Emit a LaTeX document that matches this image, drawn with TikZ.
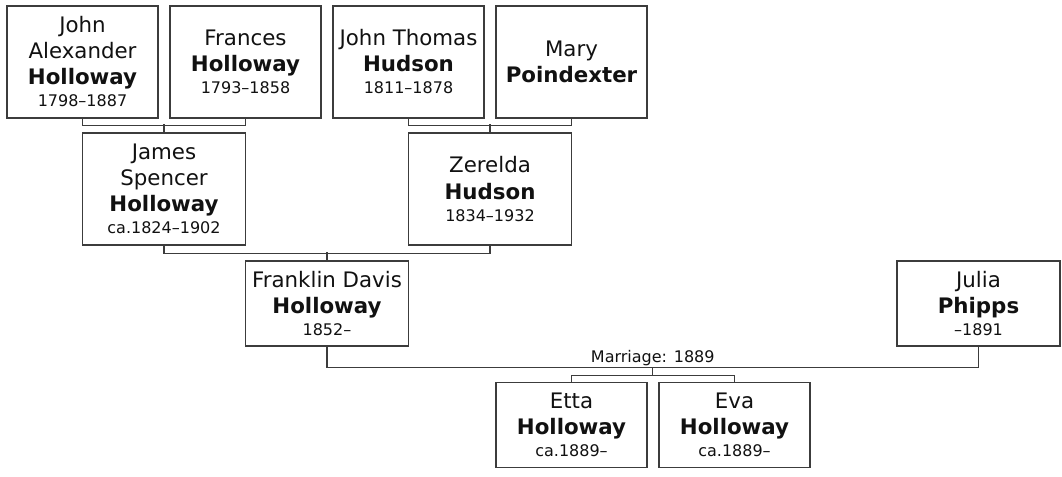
\documentclass[tikz,border=0pt]{standalone}
\usepackage{fontspec}
\setmainfont{DejaVu Sans}
\usepackage{tikz}
\usetikzlibrary{positioning}
\usepackage{xcolor}
\definecolor{FrameGray}{HTML}{3C3C3C}
\definecolor{InkBlack}{HTML}{111111}
\newcommand{\yrs}[1]{{\fontsize{12}{14}\selectfont #1}}

\begin{document}
\begin{tikzpicture}[x=0.75pt, y=-0.75pt,
  person/.style={draw=FrameGray, line width=1.1pt, fill=white, text=InkBlack, align=center,
    inner sep=0pt, minimum width=113.25pt, minimum height=63.75pt, font=\fontsize{16}{19.5}\selectfont},
  wide/.style={minimum width=122.25pt},
  tall/.style={minimum height=84pt},
  link/.style={draw=FrameGray, line width=1.1pt}]
  \useasboundingbox (0,0) rectangle (1062,476);

  \node[person, tall] (ja) at (82.5,62) {John\\Alexander\\\textbf{Holloway}\\[-3pt]\yrs{1798--1887}};
  \node[person, tall] (fh) at (245.5,62) {Frances\\\textbf{Holloway}\\[-3pt]\yrs{1793--1858}};
  \node[person, tall] (jt) at (408.5,62) {John Thomas\\\textbf{Hudson}\\[-3pt]\yrs{1811--1878}};
  \node[person, tall] (mp) at (571.5,62) {Mary\\\textbf{Poindexter}};

  \node[person, tall, wide] (js) at (164,189) {James\\Spencer\\\textbf{Holloway}\\[-3pt]\yrs{ca.1824--1902}};
  \node[person, tall, wide] (zh) at (490,189) {Zerelda\\\textbf{Hudson}\\[-3pt]\yrs{1834--1932}};

  \node[person, wide] (fd) at (327,303.5) {Franklin Davis\\\textbf{Holloway}\\[-3pt]\yrs{1852--}};
  \node[person, wide] (jp) at (978.5,303.5) {Julia\\\textbf{Phipps}\\[-3pt]\yrs{--1891}};

  \node[person] (et) at (571.5,425) {Etta\\\textbf{Holloway}\\[-3pt]\yrs{ca.1889--}};
  \node[person] (ev) at (734.5,425) {Eva\\\textbf{Holloway}\\[-3pt]\yrs{ca.1889--}};

  \draw[link] (ja.south) -- ++(0,7) -| (fh.south);
  \draw[link] (js.north) -- ++(0,-8);
  \draw[link] (jt.south) -- ++(0,7) -| (mp.south);
  \draw[link] (zh.north) -- ++(0,-8);
  \draw[link] (js.south) -- ++(0,8) -| (zh.south);
  \draw[link] (fd.north) -- ++(0,-8);

  \draw[link] (fd.south) -- ++(0,21) -| node[pos=0.25, above, inner sep=1pt, text=InkBlack,
    font=\fontsize{12}{14}\selectfont] {Marriage: 1889} coordinate[pos=0.25] (wed) (jp.south);
  \draw[link] (wed) -- ++(0,8) coordinate (kids);
  \draw[link] (et.north) |- (kids) -| (ev.north);
\end{tikzpicture}
\end{document}
